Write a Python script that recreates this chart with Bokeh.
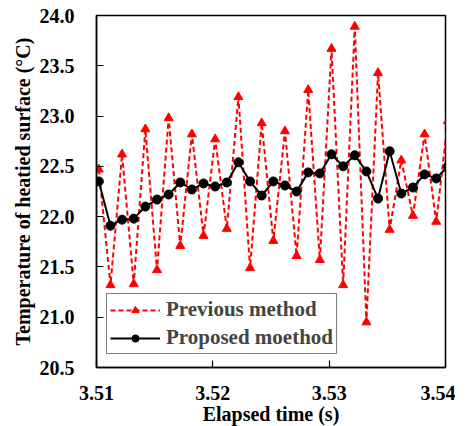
from bokeh.plotting import figure
from bokeh.models import Range1d, NumeralTickFormatter, FixedTicker, Legend, LegendItem
from bokeh.embed import file_html
from bokeh.resources import INLINE

x_start = 3.5102
x_step = 0.001
previous = [22.47, 21.32, 22.62, 21.33, 22.87, 21.47, 22.98, 21.71, 22.82, 21.81,
            22.77, 21.88, 23.19, 21.49, 22.93, 21.76, 22.85, 21.61, 23.26, 21.57,
            23.67, 21.32, 23.89, 20.95, 23.43, 21.87, 22.56, 22.01, 22.82, 21.95, 22.95]
proposed = [22.35, 21.91, 21.97, 21.98, 22.10, 22.17, 22.22, 22.34, 22.27, 22.33,
            22.30, 22.34, 22.54, 22.35, 22.21, 22.35, 22.31, 22.25, 22.44, 22.43,
            22.62, 22.50, 22.61, 22.45, 22.18, 22.65, 22.23, 22.29, 22.42, 22.38, 22.50]
times = [round(x_start + i * x_step, 5) for i in range(len(previous))]
x_ticks = [3.51, 3.52, 3.53, 3.54]
y_ticks = [20.5, 21.0, 21.5, 22.0, 22.5, 23.0, 23.5, 24.0]

FONT = "Liberation Serif"

p = figure(frame_width=349, frame_height=352, output_backend="svg", toolbar_location=None,
           x_range=Range1d(3.51, 3.54), y_range=Range1d(20.5, 24.0),
           min_border_left=96, min_border_top=15, min_border_right=10, min_border_bottom=0)
p.background_fill_color = "white"
p.border_fill_color = "white"
p.outline_line_color = "black"
p.outline_line_width = 1.5
p.xgrid.visible = False
p.ygrid.visible = False

r1 = p.line(times, previous, line_color="#ff0000", line_width=2, line_dash="5 3")
r1m = p.scatter(times, previous, marker="triangle", size=9, fill_color="#ff0000", line_color="#ff0000")
r2 = p.line(times, proposed, line_color="black", line_width=2)
r2m = p.scatter(times, proposed, marker="circle", size=9, fill_color="black", line_color="black")

for ax in (p.xaxis[0], p.yaxis[0]):
    ax.axis_line_color = "black"
    ax.axis_line_width = 1.5
    ax.major_tick_in = 7
    ax.major_tick_out = 0
    ax.minor_tick_in = 0
    ax.minor_tick_out = 0
    ax.major_tick_line_color = "black"
    ax.major_tick_line_width = 1.2
    ax.major_label_text_font = FONT
    ax.major_label_text_font_style = "bold"
    ax.major_label_text_font_size = "20px"
    ax.major_label_text_color = "black"
    ax.axis_label_text_font = FONT
    ax.axis_label_text_font_style = "bold"
    ax.axis_label_text_font_size = "20px"
    ax.axis_label_text_color = "black"

p.xaxis[0].ticker = FixedTicker(ticks=x_ticks)
p.yaxis[0].ticker = FixedTicker(ticks=y_ticks)
p.xaxis[0].formatter = NumeralTickFormatter(format="0.00")
p.yaxis[0].formatter = NumeralTickFormatter(format="0.0")
p.xaxis[0].axis_label = "Elapsed time (s)"
p.yaxis[0].axis_label = "Temperature of heatied surface (°C)"
p.xaxis[0].major_label_standoff = 18
p.xaxis[0].axis_label_standoff = 0
p.yaxis[0].major_label_standoff = 22
p.yaxis[0].axis_label_standoff = 3

legend = Legend(items=[LegendItem(label="Previous method", renderers=[r1, r1m]),
                       LegendItem(label="Proposed moethod", renderers=[r2, r2m])],
                location=(10, 13))
legend.border_line_color = "black"
legend.border_line_width = 1.5
legend.background_fill_alpha = 1.0
legend.label_text_font = FONT
legend.label_text_font_style = "bold"
legend.label_text_font_size = "21px"
legend.glyph_width = 50
legend.glyph_height = 18
legend.label_height = 18
legend.label_standoff = 6
legend.padding = 3
legend.spacing = 3
legend.margin = 0
p.add_layout(legend, "center")

open("out.html", "w").write(file_html(p, INLINE))
